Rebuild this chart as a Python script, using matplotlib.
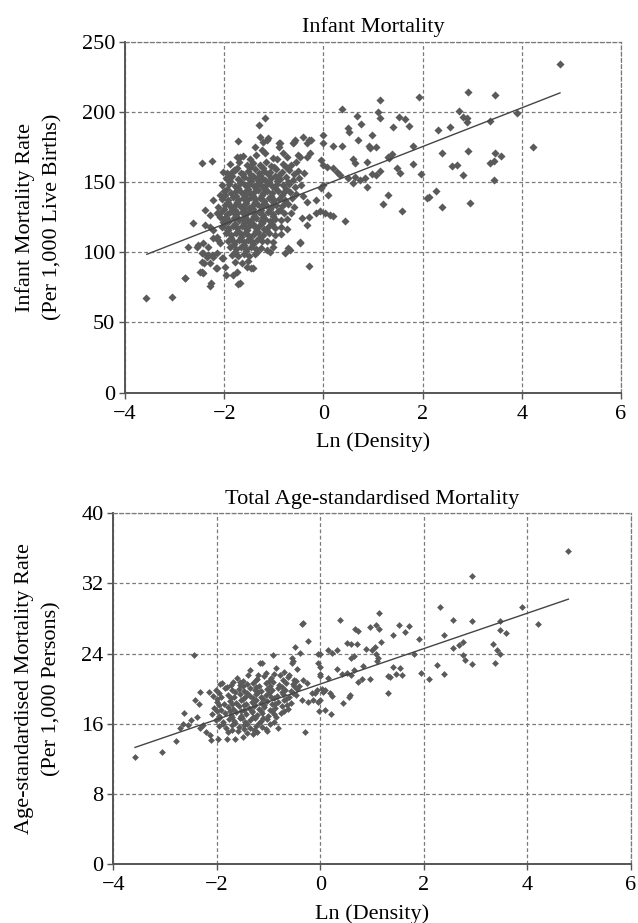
import matplotlib
matplotlib.use('Agg')
import matplotlib.pyplot as plt
import numpy as np

plt.rcParams['font.family'] = ['Liberation Serif', 'DejaVu Serif']
plt.rcParams['font.size'] = 16
plt.rcParams['axes.unicode_minus'] = True

# ---------------- Data: Infant mortality ----------------
infant_title = "Infant Mortality"
infant_ylabel = "Infant Mortality Rate\n(Per 1,000 Live Births)"
xlabel = "Ln (Density)"
x_ticks = [-4, -2, 0, 2, 4, 6]
infant_yticks = [0, 50, 100, 150, 200, 250]

infant_sparse = [
    (-1.18,195.4),(-1.29,190.7),(-1.72,179.5),(-2.45,163.8),(-2.25,165.2),(-0.41,182.3),(-0.24,180.0),(-0.59,178.8),(-0.90,178.0),(-1.14,180.0),
    (4.77,234.1),(2.92,214.4),(3.46,212.0),(1.14,208.5),(1.93,210.4),(0.37,201.8),(1.11,200.1),(2.74,200.9),(2.81,196.6),(2.89,195.4),
    (2.90,193.0),(3.36,193.7),(3.90,199.0),(0.67,197.0),(0.75,191.4),(1.14,195.4),(1.53,196.1),(1.65,194.7),(1.73,190.2),(1.40,189.5),
    (0.50,188.3),(0.52,185.9),(2.32,187.1),(2.55,189.0),(0.97,183.5),(0.70,180.0),(0.00,183.5),(-0.30,180.0),(0.00,177.6),(0.20,175.7),
    (0.37,175.7),(0.91,175.7),(1.07,174.8),(0.94,174.1),(1.81,175.7),(2.39,170.9),(2.92,172.4),(4.23,174.8),(3.46,170.9),(3.59,168.6),
    (3.36,163.8),(3.43,165.2),(0.60,166.2),(0.64,163.8),(0.87,164.5),(1.31,168.1),(1.38,170.0),(1.33,167.0),(1.48,159.8),(1.54,156.3),
    (1.81,162.9),(1.96,155.8),(2.59,161.5),(2.70,162.2),(2.81,155.1),(3.43,151.5),(-0.04,165.7),(0.00,162.2),(0.07,161.0),(0.20,159.8),
    (0.27,157.4),(0.33,155.1),(0.50,152.7),(0.64,153.8),(0.74,151.5),(0.84,152.7),(0.97,155.8),(1.07,155.1),(1.14,158.1),(0.60,149.1),
    (0.87,146.3),(0.00,147.9),(-0.04,145.6),(1.31,140.8),(1.21,134.4),(1.58,129.6),(2.12,139.6),(2.27,143.9),(2.08,138.5),(2.40,132.0),
    (2.96,134.9),(-0.14,137.3),(-0.34,136.0),(-0.41,140.1),(-0.07,129.6),(0.03,128.2),(0.13,126.6),(-0.14,127.8),(0.20,125.9),(0.44,122.5),
    (-0.34,119.4),(-0.30,125.4),(-0.44,124.2),(-0.47,107.5),(-0.30,90.2),(0.10,140.8),(-0.67,101.6),(-1.07,100.4),(-1.41,88.6),
    (-3.58,67.2),(-3.06,68.0),(-2.80,81.9),(-2.29,76.2),(-1.72,77.2),(-2.45,86.2),(-2.43,85.0),(-1.96,83.8),(-2.15,89.0),(-2.72,104.0),
    (-2.55,104.0),(-2.62,120.7),(-2.39,130.1),(-2.29,126.6),(-2.22,137.3),(-2.12,132.5),(-2.41,92.2),(-2.29,92.6),(-2.42,99.3),(-2.32,98.1),
    (-2.22,96.9),(-2.08,106.4),(-2.15,111.1),(-2.03,95.7),(-1.98,89.7),(-1.82,83.8),(-1.75,86.2),(-1.45,88.6),(-1.55,89.7),(-0.77,99.3),
    (-0.47,106.4),(-0.71,102.8),(-1.14,101.6),(-1.01,104.0),(-1.11,181.2),(-0.87,177.6),(-0.89,175.2),(-0.34,177.6),(-0.57,180.0),(-0.61,177.6),
    (-1.28,182.3),(-1.21,178.8),(-1.38,175.2),(-1.24,172.9),(-1.18,170.5),(-0.81,170.5),(-0.74,168.1),(-0.51,169.3),(-0.47,168.1),(-0.27,170.5),
    (-0.34,168.1),(-1.75,168.1),(-1.69,167.6),(-1.95,156.7),(-1.85,157.4),(-1.78,158.6),(-2.09,140.8),(-1.75,145.6),(-1.92,134.9),(-1.85,131.3),
    (-1.88,128.9),(-2.15,128.2),(-2.08,125.4),(-2.02,121.8),(-2.39,119.4),(-2.29,118.2),(-2.22,115.9),(-2.52,105.2),(-2.42,106.4),(-2.32,104.0),
    (-2.22,110.0),(-2.12,108.8),(-2.45,99.3),(-2.35,96.9),(-2.25,98.1),(-2.15,99.3),(-2.05,95.7),(-2.45,93.3),(-2.49,86.2),(-2.17,88.6),
    (-2.79,81.5),(-2.27,77.9),(-1.68,77.9),
]
infant_x_sparse = [p[0] for p in infant_sparse]
infant_y_sparse = [p[1] for p in infant_sparse]

infant_x_cluster = [
    -1.62,-1.48,-1.35,-1.02,-0.93,
    -1.88,-1.70,-1.55,-1.42,-1.28,-1.15,-1.05,-0.82,-0.66,-0.55,
    -2.02,-1.80,-1.66,-1.52,-1.38,-1.30,-1.20,-1.08,-0.96,-0.84,-0.70,-0.52,-0.40,
    -1.96,-1.84,-1.72,-1.60,-1.50,-1.42,-1.33,-1.25,-1.17,-1.06,-0.98,-0.88,-0.76,-0.62,-0.50,
    -2.05,-1.90,-1.78,-1.68,-1.58,-1.49,-1.40,-1.32,-1.24,-1.14,-1.04,-0.94,-0.82,-0.70,-0.58,-0.45,
    -2.00,-1.86,-1.76,-1.66,-1.57,-1.48,-1.40,-1.31,-1.22,-1.13,-1.03,-0.92,-0.80,-0.67,-0.55,
    -2.04,-1.93,-1.82,-1.72,-1.63,-1.54,-1.45,-1.37,-1.28,-1.19,-1.10,-1.00,-0.89,-0.77,-0.63,
    -1.98,-1.87,-1.78,-1.69,-1.60,-1.51,-1.43,-1.34,-1.25,-1.16,-1.06,-0.96,-0.84,-0.72,-0.60,
    -2.06,-1.94,-1.83,-1.74,-1.65,-1.56,-1.47,-1.39,-1.30,-1.21,-1.12,-1.02,-0.91,-0.79,-0.66,
    -2.01,-1.90,-1.80,-1.71,-1.62,-1.53,-1.44,-1.35,-1.26,-1.17,-1.07,-0.97,-0.86,-0.73,
    -2.05,-1.93,-1.83,-1.74,-1.65,-1.56,-1.47,-1.38,-1.29,-1.19,-1.09,-0.98,-0.86,-0.74,
    -1.97,-1.86,-1.76,-1.67,-1.58,-1.49,-1.40,-1.31,-1.21,-1.10,-0.98,-0.85,
    -1.93,-1.81,-1.70,-1.61,-1.52,-1.43,-1.34,-1.24,-1.13,-1.01,
    -1.88,-1.76,-1.66,-1.56,-1.46,-1.36,-1.25,
    -1.84,-1.72,-1.61,-1.50,-1.38,
    -1.78,-1.64,-1.52,
]
infant_y_cluster = [
    168.5,166.8,169.2,167.4,166.1,
    162.8,164.1,161.9,163.5,162.4,164.6,161.5,163.1,162.0,164.0,
    157.5,158.9,156.8,158.2,159.1,156.5,158.0,157.2,159.3,156.9,158.4,157.6,156.2,
    152.8,154.1,152.2,153.7,151.9,154.3,152.5,153.9,151.6,153.2,154.5,152.1,153.4,151.8,153.0,
    147.6,148.9,147.2,149.1,147.8,148.4,146.9,149.3,147.5,148.6,147.1,149.0,147.7,148.3,146.8,148.0,
    143.4,142.1,144.0,142.6,143.8,141.9,143.2,144.3,142.4,143.6,142.0,143.9,142.7,143.1,141.8,
    138.2,137.0,139.1,137.6,138.7,137.2,139.3,137.9,138.4,136.8,138.9,137.5,138.1,136.9,138.6,
    133.5,132.2,134.0,132.8,133.9,131.9,133.3,134.4,132.5,133.7,132.0,133.4,132.9,134.1,132.3,
    128.4,127.1,129.0,127.7,128.8,127.3,129.2,127.9,128.5,126.9,128.7,127.4,129.1,127.8,128.2,
    123.6,122.3,124.1,122.9,123.8,122.0,123.4,124.3,122.6,123.9,122.2,123.5,122.8,124.0,
    118.3,117.1,119.0,117.6,118.8,117.2,119.1,117.8,118.5,116.9,118.7,117.5,118.2,116.8,
    113.5,112.2,114.0,112.8,113.9,111.9,113.3,114.2,112.5,113.7,112.1,113.2,
    108.4,107.2,109.0,107.6,108.8,107.1,108.9,107.7,108.3,107.0,
    103.5,102.2,104.0,102.7,103.8,102.1,103.3,
    98.3,97.1,99.0,97.6,98.6,
    93.4,92.2,93.8,
]
# extra points filling the dense core between the rows above
infant_x_core = [
    -1.75,-1.47,-1.22,-1.00,-0.75,
    -1.90,-1.62,-1.45,-1.28,-1.12,-0.90,-0.60,
    -1.88,-1.66,-1.45,-1.28,-1.10,-0.93,-0.72,
    -1.95,-1.72,-1.53,-1.36,-1.18,-0.98,-0.75,
    -1.98,-1.77,-1.58,-1.41,-1.24,-1.05,-0.84,
    -1.92,-1.74,-1.56,-1.38,-1.20,-1.01,-0.78,
    -2.00,-1.79,-1.60,-1.42,-1.25,-1.07,-0.88,
    -1.96,-1.76,-1.58,-1.40,-1.22,-1.02,
    -1.98,-1.79,-1.60,-1.42,-1.24,-1.04,
    -1.92,-1.72,-1.54,-1.36,-1.16,
    -1.87,-1.66,-1.48,-1.28,
    -1.80,-1.60,-1.41,
    -1.78,-1.56,-1.33,
]
infant_y_core = [
    160.2,161.0,159.9,160.8,160.4,
    155.1,156.0,155.4,154.9,155.8,155.3,155.6,
    150.8,150.1,150.6,151.0,150.3,150.7,150.2,
    145.2,145.9,145.4,145.7,145.1,145.8,145.3,
    140.7,140.2,140.9,140.4,140.6,140.1,140.8,
    135.3,135.9,135.1,135.7,135.4,135.8,135.2,
    130.8,130.2,130.6,130.9,130.3,130.7,130.4,
    125.2,125.8,125.4,125.9,125.1,125.6,
    120.7,120.3,120.9,120.2,120.6,120.4,
    115.8,115.2,115.6,115.3,115.9,
    110.3,110.8,110.5,110.9,
    105.7,105.2,105.8,
    100.4,100.9,100.2,
]
infant_trend_x = [-3.56, 4.77]
infant_trend_slope = 13.8
infant_trend_intercept = 147.7

# ---------------- Data: Age-standardised mortality ----------------
mort_title = "Total Age-standardised Mortality"
mort_ylabel = "Age-standardised Mortality Rate\n(Per 1,000 Persons)"
mort_yticks = [0, 8, 16, 24, 32, 40]

mort_sparse = [
    (-0.36,27.4),(-0.23,25.4),(-0.49,24.7),(-0.39,24.1),(-2.45,23.8),(-0.91,23.8),(-1.13,22.9),(-0.55,23.5),(-0.55,22.9),(-0.04,24.0),
    (4.79,35.7),(2.92,32.9),(2.31,29.3),(3.89,29.3),(4.21,27.4),(2.56,27.8),(2.92,27.7),(3.46,27.7),(3.47,26.7),(3.59,26.4),
    (2.39,26.1),(2.57,24.6),(2.68,25.0),(2.76,25.3),(3.33,25.1),(3.41,24.4),(3.47,24.0),(2.76,23.8),(2.79,23.3),(2.92,22.8),
    (3.37,22.9),(1.14,28.6),(0.37,27.8),(0.67,26.8),(0.73,26.6),(0.96,27.0),(1.07,27.3),(1.14,26.8),(1.52,27.3),(1.63,26.5),
    (1.72,27.1),(-0.34,27.5),(1.40,26.1),(1.18,25.3),(1.06,24.8),(1.91,25.7),(0.51,25.2),(0.60,25.1),(0.70,25.1),(0.89,24.5),
    (0.99,24.4),(0.15,24.4),(0.22,24.1),(0.32,24.4),(-0.01,23.9),(-0.04,22.9),(0.64,23.7),(0.60,23.5),(1.07,23.9),(1.12,23.5),
    (1.80,24.0),(2.25,22.7),(1.41,22.5),(1.54,22.3),(1.94,21.8),(2.10,21.1),(2.39,21.7),(1.47,21.7),(1.57,21.6),(1.31,21.4),
    (1.34,21.3),(1.31,19.5),(0.80,21.1),(0.73,20.8),(0.96,21.1),(0.83,22.6),(1.09,23.1),(0.51,21.8),(0.60,21.6),(0.64,22.1),
    (0.32,22.2),(0.41,21.7),(0.57,19.3),(0.56,19.0),(0.43,18.4),(0.15,21.2),(0.19,19.5),(0.22,19.2),(-0.01,22.5),(0.00,21.7),
    (-0.01,21.4),(0.03,20.0),(0.09,19.9),(0.06,19.6),(-0.01,18.7),(-0.04,18.5),(-0.02,17.4),(0.09,17.6),(0.20,17.1),(-0.33,21.0),
    (-0.26,20.6),(-0.17,19.5),(-0.07,19.8),(-0.10,19.5),(-0.36,18.7),(-0.23,18.5),(-0.14,18.7),(-0.30,15.1),
    (-3.58,12.2),(-3.05,12.8),(-2.79,14.0),(-2.63,17.2),(-2.33,19.6),(-2.15,19.6),(-2.42,18.7),(-2.34,18.3),(-2.39,16.8),(-2.49,16.4),
    (-2.55,15.8),(-2.20,15.1),(-2.13,14.7),(-2.11,14.1),(-1.97,14.3),(-2.33,15.5),(-2.26,15.8),(-2.71,15.5),(-2.66,16.0),(-1.94,20.5),
    (-0.52,23.1),(-1.17,22.9),(-1.68,20.8),(-1.55,20.4),(-1.81,14.3),(-1.65,14.3),(-1.49,14.5),(-1.30,14.8),(-1.04,15.2),(-0.81,15.5),
]
mort_x_sparse = [p[0] for p in mort_sparse]
mort_y_sparse = [p[1] for p in mort_sparse]

mort_x_cluster = [
    -1.35,-1.05,-0.85,-0.70,-0.45,
    -1.62,-1.40,-1.22,-1.08,-0.95,-0.78,-0.62,-0.50,
    -1.90,-1.72,-1.55,-1.42,-1.30,-1.18,-1.05,-0.92,-0.80,-0.66,-0.52,-0.42,
    -2.02,-1.85,-1.70,-1.58,-1.47,-1.36,-1.26,-1.15,-1.04,-0.93,-0.81,-0.69,-0.56,-0.45,
    -2.08,-1.92,-1.78,-1.66,-1.55,-1.45,-1.35,-1.25,-1.15,-1.05,-0.95,-0.84,-0.72,-0.60,-0.48,
    -2.00,-1.86,-1.74,-1.63,-1.53,-1.43,-1.33,-1.24,-1.14,-1.04,-0.93,-0.82,-0.70,-0.57,
    -2.05,-1.91,-1.79,-1.68,-1.58,-1.48,-1.38,-1.29,-1.19,-1.09,-0.98,-0.87,-0.75,-0.62,
    -2.10,-1.96,-1.84,-1.73,-1.63,-1.53,-1.43,-1.33,-1.23,-1.13,-1.02,-0.90,-0.77,
    -2.02,-1.89,-1.77,-1.66,-1.56,-1.46,-1.36,-1.26,-1.15,-1.03,-0.90,
    -1.95,-1.82,-1.70,-1.58,-1.47,-1.36,-1.24,-1.12,
    -1.78,-1.60,-1.42,-1.22,
]
mort_y_cluster = [
    22.1,21.8,22.3,21.9,22.2,
    21.2,21.5,21.1,21.4,21.2,21.5,21.3,21.0,
    20.6,20.4,20.8,20.5,20.7,20.3,20.6,20.8,20.4,20.7,20.5,20.3,
    19.9,20.1,19.8,20.0,19.7,20.1,19.9,19.7,20.0,19.8,20.1,19.9,19.7,20.0,
    19.2,19.0,19.3,19.1,19.4,19.0,19.2,19.4,19.1,19.3,19.0,19.2,19.4,19.1,19.3,
    18.5,18.3,18.6,18.4,18.7,18.3,18.5,18.7,18.4,18.6,18.3,18.5,18.7,18.4,
    17.8,17.6,17.9,17.7,18.0,17.6,17.8,18.0,17.7,17.9,17.6,17.8,18.0,17.7,
    17.1,16.9,17.2,17.0,17.3,16.9,17.1,17.3,17.0,17.2,16.9,17.1,17.2,
    16.4,16.2,16.5,16.3,16.6,16.2,16.4,16.6,16.3,16.5,16.2,
    15.7,15.5,15.8,15.6,15.9,15.5,15.7,15.6,
    15.0,15.2,14.9,15.1,
]
mort_x_core = [
    -1.20,-0.90,-0.60,
    -1.50,-1.25,-1.00,-0.72,-0.48,
    -1.80,-1.50,-1.24,-0.98,-0.74,-0.50,
    -1.95,-1.65,-1.41,-1.20,-0.99,-0.75,-0.52,
    -2.00,-1.72,-1.50,-1.30,-1.10,-0.89,-0.66,
    -1.95,-1.70,-1.48,-1.28,-1.09,-0.88,-0.65,
    -2.00,-1.74,-1.53,-1.33,-1.14,-0.94,-0.70,
    -1.95,-1.71,-1.51,-1.31,-1.10,-0.85,
    -1.88,-1.64,-1.41,-1.19,-0.97,
    -1.70,-1.48,-1.28,-1.05,
]
mort_y_core = [
    21.6,21.7,21.6,
    20.9,21.0,20.9,21.0,20.9,
    20.2,20.3,20.2,20.3,20.2,20.3,
    19.5,19.6,19.5,19.6,19.5,19.6,19.5,
    18.8,18.9,18.8,18.9,18.8,18.9,18.8,
    18.1,18.2,18.1,18.2,18.1,18.2,18.1,
    17.4,17.5,17.4,17.5,17.4,17.5,17.4,
    16.7,16.8,16.7,16.8,16.7,16.8,
    16.0,16.1,16.0,16.1,16.0,
    15.3,15.4,15.3,15.4,
]
mort_trend_x = [-3.58, 4.79]
mort_trend_slope = 2.02
mort_trend_intercept = 20.53

# ---------------- Plot ----------------
W, H = 638, 923
fig = plt.figure(figsize=(W / 100, H / 100), dpi=100)
fig.patch.set_facecolor('white')

point_color = '#5a5a5a'
grid_color = '#7a7a7a'
dash = (0, (3, 2))


def style_axes(ax, yticks, ylabel, title, ylabelpad):
    ax.set_xlim(x_ticks[0], x_ticks[-1])
    ax.set_ylim(yticks[0], yticks[-1])
    ax.set_xticks(x_ticks)
    ax.set_yticks(yticks)
    ax.grid(True, linestyle=dash, color=grid_color, linewidth=0.9)
    ax.set_axisbelow(True)
    for s in ['top', 'right']:
        ax.spines[s].set_linestyle(dash)
        ax.spines[s].set_color(grid_color)
        ax.spines[s].set_linewidth(0.9)
    for s in ['left', 'bottom']:
        ax.spines[s].set_color('#555555')
        ax.spines[s].set_linewidth(1.4)
    ax.tick_params(axis='both', direction='out', length=4, width=1, color='#555555',
                   labelsize=16)
    ax.tick_params(axis='x', pad=5)
    ax.tick_params(axis='y', pad=3)
    ax.set_xlabel(xlabel, fontsize=16, labelpad=6)
    ax.set_ylabel(ylabel, fontsize=16, labelpad=ylabelpad, linespacing=1.6)
    ax.set_title(title, fontsize=16, pad=7)


ax1 = fig.add_axes([125 / W, 1 - 392.7 / H, 496 / W, 351 / H])
style_axes(ax1, infant_yticks, infant_ylabel, infant_title, 14)
for xs, ys in [(infant_x_cluster, infant_y_cluster), (infant_x_core, infant_y_core),
               (infant_x_sparse, infant_y_sparse)]:
    ax1.scatter(xs, ys, marker='D', s=17, color=point_color, linewidths=0, zorder=3)
tx = np.array(infant_trend_x)
ax1.plot(tx, infant_trend_intercept + infant_trend_slope * tx, color='#444444', lw=1.0, zorder=4)

ax2 = fig.add_axes([113.3 / W, 1 - 864 / H, 517.7 / W, 350.7 / H])
style_axes(ax2, mort_yticks, mort_ylabel, mort_title, 14)
for xs, ys in [(mort_x_cluster, mort_y_cluster), (mort_x_core, mort_y_core),
               (mort_x_sparse, mort_y_sparse)]:
    ax2.scatter(xs, ys, marker='D', s=12, color=point_color, linewidths=0, zorder=3)
tx2 = np.array(mort_trend_x)
ax2.plot(tx2, mort_trend_intercept + mort_trend_slope * tx2, color='#444444', lw=1.0, zorder=4)

fig.savefig('out.png', dpi=100, facecolor='white')
